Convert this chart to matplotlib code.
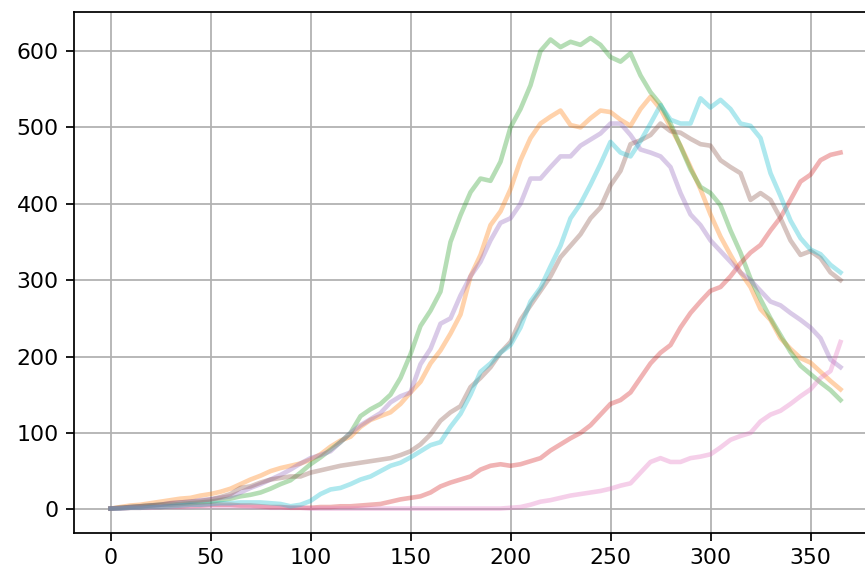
import numpy as np
import matplotlib
matplotlib.use("Agg")
import matplotlib.pyplot as plt

days = list(range(0, 366, 5))

orange = [1, 3, 5, 6, 8, 10, 12, 14, 15, 18, 20, 23, 27, 33, 39, 44, 50, 54, 57, 60,
          65, 72, 82, 90, 95, 108, 117, 122, 127, 138, 153, 167, 191, 208, 230, 255, 305, 333, 372, 390,
          419, 457, 486, 505, 514, 522, 503, 500, 512, 522, 520, 510, 502, 524, 540, 524, 500, 476, 448, 419,
          386, 357, 333, 310, 291, 262, 248, 224, 210, 198, 192, 180, 168, 157]
green = [1, 2, 3, 4, 5, 6, 6, 7, 8, 9, 10, 12, 14, 17, 19, 22, 27, 33, 38, 48,
         59, 68, 78, 88, 100, 122, 131, 138, 150, 172, 203, 240, 260, 285, 350, 385, 415, 433, 430, 455,
         500, 524, 555, 600, 615, 605, 612, 608, 617, 608, 592, 586, 597, 568, 546, 530, 505, 475, 445, 422,
         414, 398, 365, 336, 302, 275, 250, 228, 206, 188, 177, 166, 156, 143]
red = [1, 1, 2, 2, 3, 3, 4, 4, 5, 5, 6, 6, 6, 5, 5, 4, 3, 3, 2, 2,
       2, 3, 3, 4, 4, 5, 6, 7, 10, 13, 15, 17, 22, 30, 35, 39, 43, 52, 57, 59,
       57, 59, 63, 67, 77, 85, 93, 100, 110, 124, 138, 143, 153, 172, 191, 205, 215, 238, 257, 272,
       286, 291, 305, 322, 336, 346, 365, 382, 405, 429, 438, 457, 464, 467]
purple = [1, 2, 3, 4, 5, 6, 8, 9, 10, 12, 13, 15, 17, 22, 28, 33, 39, 45, 52, 60,
          67, 71, 76, 88, 100, 110, 118, 126, 140, 148, 153, 190, 210, 243, 250, 280, 305, 324, 352, 375,
          381, 400, 433, 433, 448, 462, 462, 476, 484, 492, 505, 505, 490, 471, 467, 462, 448, 414, 386, 372,
          352, 338, 324, 310, 300, 286, 272, 267, 257, 248, 238, 224, 196, 186]
brown = [1, 2, 3, 4, 5, 6, 8, 9, 10, 11, 13, 16, 20, 28, 30, 35, 39, 41, 43, 43,
         48, 51, 54, 57, 59, 61, 63, 65, 67, 71, 76, 85, 98, 116, 127, 135, 160, 172, 186, 205,
         219, 248, 267, 286, 305, 330, 345, 360, 381, 395, 424, 443, 478, 483, 490, 505, 495, 493, 485, 478,
         476, 457, 448, 440, 405, 414, 405, 381, 352, 333, 338, 329, 310, 300]
pink = [1, 1, 2, 2, 2, 3, 3, 3, 3, 4, 4, 4, 4, 4, 3, 3, 2, 2, 2, 2,
        1, 1, 1, 1, 1, 1, 1, 1, 1, 1, 1, 1, 1, 1, 1, 1, 1, 1, 1, 1,
        2, 3, 6, 10, 12, 15, 18, 20, 22, 24, 27, 31, 34, 48, 62, 67, 62, 62, 67, 69,
        72, 81, 91, 96, 100, 115, 124, 129, 138, 148, 157, 172, 181, 219]
cyan = [1, 1, 2, 2, 3, 3, 4, 5, 6, 6, 7, 8, 8, 9, 9, 9, 8, 7, 4, 6,
        11, 20, 26, 28, 33, 39, 43, 50, 57, 61, 68, 76, 84, 88, 108, 125, 150, 180, 191, 205,
        215, 238, 272, 290, 318, 345, 381, 400, 425, 452, 481, 467, 462, 482, 505, 529, 510, 505, 505, 538,
        526, 536, 524, 505, 502, 486, 440, 410, 378, 355, 340, 334, 320, 310]

series = [("C1", orange), ("C2", green), ("C3", red), ("C4", purple),
          ("C5", brown), ("C6", pink), ("C9", cyan)]

fig = plt.figure(figsize=(8.65, 5.71), dpi=100)
ax = fig.add_axes([74 / 865, 38 / 571, 803 / 865, 521 / 571])
for color, vals in series:
    ax.plot(days, vals, color=color, alpha=0.35, lw=3.3)

ax.set_xlim(-18.25, 383.25)
ax.set_ylim(-31, 651)
ax.set_xticks([0, 50, 100, 150, 200, 250, 300, 350])
ax.set_yticks([0, 100, 200, 300, 400, 500, 600])
ax.grid(True, color="#b0b0b0", lw=1.26)
ax.tick_params(labelsize=15.8, length=5.5, width=1.26, pad=5.5)
for s in ax.spines.values():
    s.set_linewidth(1.26)

fig.savefig("out.png", dpi=100)
